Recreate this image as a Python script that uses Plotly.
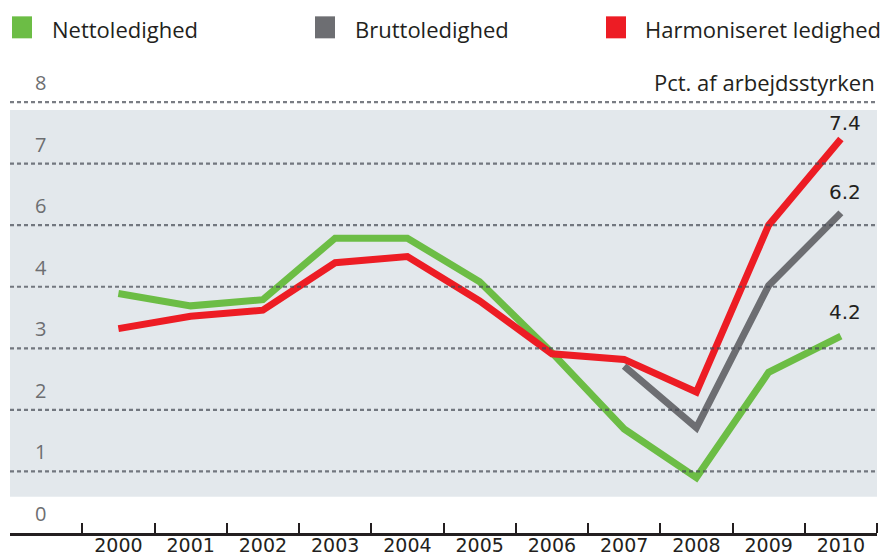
import plotly.graph_objects as go

years = [2000, 2001, 2002, 2003, 2004, 2005, 2006, 2007, 2008, 2009, 2010]
netto = [4.89, 4.69, 4.79, 5.79, 5.79, 5.08, 3.93, 2.69, 1.90, 3.61, 4.2]
brutto_years = [2007, 2008, 2009, 2010]
brutto = [3.71, 2.71, 5.02, 6.2]
harmon = [4.32, 4.52, 4.62, 5.39, 5.49, 4.77, 3.91, 3.82, 3.29, 6.0, 7.4]

ytick_vals = [1, 2, 3, 4, 5, 6, 7, 8]
ytick_text = ["0", "1", "2", "3", "4", "6", "7", "8"]
end_labels = ["4.2", "6.2", "7.4"]
legend_names = ["Nettoledighed", "Bruttoledighed", "Harmoniseret ledighed"]

GREEN = "#6cbd45"
GREY = "#6d6e72"
RED = "#ed1c24"
BAND = "#e3e8ec"
TXT = "#231f20"

W, H = 880, 558
Y_MIN, Y_MAX = 1, 8.7
LEFT, RIGHT, BOTTOM = 10, 877, 533
UNIT = 61.6
TOP = BOTTOM - (Y_MAX - Y_MIN) * UNIT
ML, MR, MT, MB = LEFT, W - RIGHT, TOP, H - BOTTOM
PW = RIGHT - LEFT
PH = BOTTOM - TOP


def px_x(x):
    return (x - LEFT) / PW


def px_y(y):
    return (BOTTOM - y) / PH


fig = go.Figure()
fig.add_trace(go.Scatter(x=years, y=netto, mode="lines", name=legend_names[0],
                         line=dict(color=GREEN, width=7), showlegend=False))
fig.add_trace(go.Scatter(x=brutto_years, y=brutto, mode="lines", name=legend_names[1],
                         line=dict(color=GREY, width=7), showlegend=False))
fig.add_trace(go.Scatter(x=years, y=harmon, mode="lines", name=legend_names[2],
                         line=dict(color=RED, width=7), showlegend=False))

shapes = []
shapes.append(dict(type="rect", xref="paper", yref="y", x0=0, x1=1, y0=1.59, y1=7.87,
                   fillcolor=BAND, line=dict(width=0), layer="below"))
for v in ytick_vals[1:]:
    shapes.append(dict(type="line", xref="paper", yref="y", x0=0, x1=1, y0=v, y1=v,
                       line=dict(color="rgba(70,75,85,0.72)", width=2.2, dash="4px,3px"),
                       layer="above"))
sq_left = [12, 315, 606]
colors = [GREEN, GREY, RED]
for xl, c in zip(sq_left, colors):
    shapes.append(dict(type="rect", xref="paper", yref="paper",
                       x0=px_x(xl), x1=px_x(xl + 20), y0=px_y(38), y1=px_y(16),
                       fillcolor=c, line=dict(width=0)))

annotations = []
txt_left = [50, 353, 643]
for xl, name in zip(txt_left, legend_names):
    annotations.append(dict(xref="paper", yref="paper", x=px_x(xl), y=px_y(29),
                            text=name, showarrow=False, xanchor="left", yanchor="middle",
                            font=dict(family="Open Sans", size=22, color=TXT)))
annotations.append(dict(xref="paper", yref="paper", x=px_x(877), y=px_y(82),
                        text="Pct. af arbejdsstyrken", showarrow=False,
                        xanchor="right", yanchor="middle",
                        font=dict(family="Open Sans", size=22, color=TXT)))
end_vals = [netto[-1], brutto[-1], harmon[-1]]
shifts = [24, 21, 16]
for v, lab, sh in zip(end_vals, end_labels, shifts):
    annotations.append(dict(x=years[-1], y=v, text=lab, showarrow=False,
                            xanchor="center", yanchor="middle", xshift=4, yshift=sh,
                            font=dict(family="DejaVu Sans", size=20, color=TXT)))

fig.update_layout(
    width=W, height=H,
    margin=dict(l=ML, r=MR, t=MT, b=MB, pad=0),
    paper_bgcolor="white", plot_bgcolor="white",
    showlegend=False,
    shapes=shapes, annotations=annotations,
    xaxis=dict(range=[1998.5, 2010.5], tickvals=years, ticktext=[str(y) for y in years],
               ticks="", showgrid=False, zeroline=False, automargin=False,
               showline=True, linecolor="#231f20", linewidth=2.5,
               ticklabelstandoff=-7,
               tickfont=dict(family="DejaVu Sans", size=19, color=TXT),
               minor=dict(tick0=1999.5, dtick=1, ticks="inside", ticklen=10,
                          tickwidth=2, tickcolor="#231f20", showgrid=False)),
    yaxis=dict(range=[Y_MIN, Y_MAX], tickvals=ytick_vals, ticktext=ytick_text,
               ticks="", showgrid=False, zeroline=False, showline=False, automargin=False,
               ticklabelposition="inside top", ticklabelstandoff=22, ticklabelshift=-5,
               tickfont=dict(family="Open Sans", size=20, color="#6d6e71")),
)

fig.write_html(
    "out.html",
    config={"responsive": False, "displayModeBar": False},
    post_script="document.body.style.margin='0';document.body.style.overflow='hidden';",
)
